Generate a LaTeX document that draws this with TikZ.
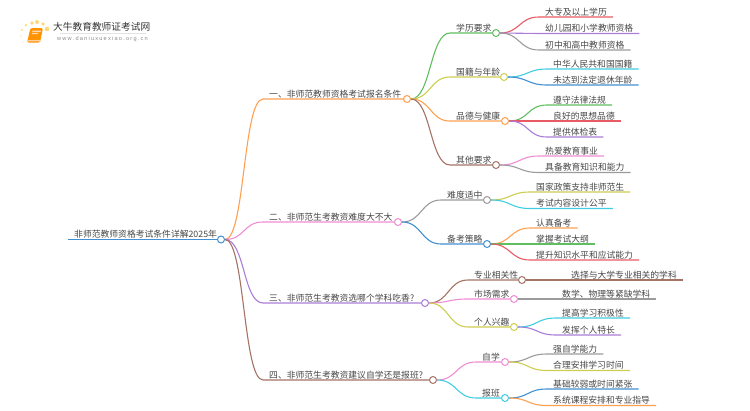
\documentclass[tikz,border=0pt]{standalone}
\usepackage{fontspec}
\setmainfont{Noto Sans CJK SC}
\newfontfamily\urlfont[LetterSpace=22]{Liberation Sans}
\usetikzlibrary{positioning}
\definecolor{pText}{RGB}{70,70,70}
\definecolor{pOrange}{RGB}{255,160,80}
\definecolor{pGreen}{RGB}{96,190,96}
\definecolor{pRed}{RGB}{232,90,100}
\definecolor{pPurple}{RGB}{170,125,215}
\definecolor{pGray}{RGB}{155,155,155}
\definecolor{pCyan}{RGB}{65,205,225}
\definecolor{pBlue}{RGB}{65,145,210}
\definecolor{pOlive}{RGB}{205,205,80}
\definecolor{pBrown}{RGB}{165,115,100}
\definecolor{pPink}{RGB}{240,140,210}
\definecolor{pGold}{RGB}{255,215,120}
\tikzset{
    lab/.style={anchor=south west, inner xsep=6pt, inner ysep=0pt, text height=7.6pt, text depth=1.6pt, font=\fontsize{8.8}{10}\selectfont, text=pText},
    hub/.style={circle, draw=#1, fill=white, inner sep=0pt, minimum size=7pt, line width=1pt},
    link/.style={line width=1.1pt},
    dot/.style={circle, fill=pGold, inner sep=0pt}
}

\begin{document}
\begin{tikzpicture}[x=1pt,y=-1pt]
\useasboundingbox (0,0) rectangle (750,410);
% logo
\node[dot, minimum size=4.6pt] (g1) at (47,29) {};
\node[dot, minimum size=3.6pt] (g2) at (43,24) {};
\node[dot, minimum size=4pt] (g3) at (37,22) {};
\node[dot, minimum size=3.6pt] (g4) at (32,23) {};
\node[dot, minimum size=3pt, opacity=.8] (g5) at (26,25) {};
\node[dot, minimum size=2.6pt, opacity=.7] (g6) at (22,30) {};
\node[dot, minimum size=2pt, opacity=.5] (g7) at (21,36) {};
\node[dot, minimum size=1.6pt, opacity=.4] (g8) at (23,42) {};
\fill[rounded corners=1.5pt, orange!85!yellow] (30.5,28) -- (43,28) -- (40,42.5) -- (27,42.5) -- cycle;
\fill[rounded corners=.5pt, orange!35!white] (28,40) -- (40.5,40) -- (40,41.3) -- (27.8,41.3) -- cycle;
\fill[orange!30!white] (32.5,30.5) -- (41,30.5) -- (40.6,32) -- (32.2,32) -- cycle;
\fill[orange!30!white] (32,33.2) -- (38,33.2) -- (37.7,34.2) -- (31.8,34.2) -- cycle;
\node[anchor=west, inner sep=0pt, font=\fontsize{9.7}{11}\selectfont, text=black!80] (brand) at (53,27) {大牛教育教师证考试网};
\node[anchor=west, inner sep=0pt, font=\urlfont\fontsize{5.6}{7}\selectfont, text=gray!90] (site) at (57,39) {www.daniuxuexiao.org.cn};
\draw[gray!22, line width=.6pt] (60,33.5) -- (146,33.5);
% root
\node[lab] (root) at (68,239.5) {非师范教师资格考试条件详解2025年};
\node[hub=pBlue] (rootH) at (221,239.5) {};
\draw[link,pBlue] (root.south west) -- (rootH.west);
% first level
\node[lab] (a) at (263,99) {一、非师范教师资格考试报名条件};
\node[hub=pOrange] (aH) at (407,99) {};
\node[lab] (b) at (263,222) {二、非师范生考教资难度大不大};
\node[hub=pPink] (bH) at (398,222) {};
\node[lab] (c) at (263,303) {三、非师范生考教资选哪个学科吃香?};
\node[hub=pPurple] (cH) at (425,303) {};
\node[lab] (d) at (263,380) {四、非师范生考教资建议自学还是报班?};
\node[hub=pBrown] (dH) at (433,380) {};
\draw[link,pOrange] (rootH.east) .. controls +(20,0) and +(-20,0) .. (a.south west) -- (aH.west);
\draw[link,pPink] (rootH.east) .. controls +(20,0) and +(-20,0) .. (b.south west) -- (bH.west);
\draw[link,pPurple] (rootH.east) .. controls +(20,0) and +(-20,0) .. (c.south west) -- (cH.west);
\draw[link,pBrown] (rootH.east) .. controls +(20,0) and +(-20,0) .. (d.south west) -- (dH.west);
% branch one
\node[lab] (a1) at (450,33) {学历要求};
\node[hub=pGreen] (a1H) at (496,33) {};
\node[lab] (a2) at (450,77) {国籍与年龄};
\node[hub=pOlive] (a2H) at (504,77) {};
\node[lab] (a3) at (450,121) {品德与健康};
\node[hub=pOrange] (a3H) at (505,121) {};
\node[lab] (a4) at (450,165) {其他要求};
\node[hub=pBrown] (a4H) at (496,165) {};
\draw[link,pGreen] (aH.east) .. controls +(20,0) and +(-20,0) .. (a1.south west) -- (a1H.west);
\draw[link,pOlive] (aH.east) .. controls +(20,0) and +(-20,0) .. (a2.south west) -- (a2H.west);
\draw[link,pOrange] (aH.east) .. controls +(20,0) and +(-20,0) .. (a3.south west) -- (a3H.west);
\draw[link,pBrown] (aH.east) .. controls +(20,0) and +(-20,0) .. (a4.south west) -- (a4H.west);
\node[lab] (a11) at (539,17) {大专及以上学历};
\node[lab] (a12) at (539,33.5) {幼儿园和小学教师资格};
\node[lab] (a13) at (539,50) {初中和高中教师资格};
\draw[link,pRed] (a1H.east) .. controls +(20,0) and +(-20,0) .. (a11.south west) -- (a11.south east);
\draw[link,pPurple] (a1H.east) .. controls +(20,0) and +(-20,0) .. (a12.south west) -- (a12.south east);
\draw[link,pGray] (a1H.east) .. controls +(20,0) and +(-20,0) .. (a13.south west) -- (a13.south east);
\node[lab] (a21) at (547,69) {中华人民共和国国籍};
\node[lab] (a22) at (547,85) {未达到法定退休年龄};
\draw[link,pCyan] (a2H.east) .. controls +(20,0) and +(-20,0) .. (a21.south west) -- (a21.south east);
\draw[link,pBlue] (a2H.east) .. controls +(20,0) and +(-20,0) .. (a22.south west) -- (a22.south east);
\node[lab] (a31) at (547,105) {遵守法律法规};
\node[lab] (a32) at (547,121) {良好的思想品德};
\node[lab] (a33) at (547,137) {提供体检表};
\draw[link,pGreen] (a3H.east) .. controls +(20,0) and +(-20,0) .. (a31.south west) -- (a31.south east);
\draw[link,pRed] (a3H.east) .. controls +(20,0) and +(-20,0) .. (a32.south west) -- (a32.south east);
\draw[link,pPurple] (a3H.east) .. controls +(20,0) and +(-20,0) .. (a33.south west) -- (a33.south east);
\node[lab] (a41) at (539,156) {热爱教育事业};
\node[lab] (a42) at (539,172.5) {具备教育知识和能力};
\draw[link,pPink] (a4H.east) .. controls +(20,0) and +(-20,0) .. (a41.south west) -- (a41.south east);
\draw[link,pGray] (a4H.east) .. controls +(20,0) and +(-20,0) .. (a42.south west) -- (a42.south east);
% branch two
\node[lab] (b1) at (441,200) {难度适中};
\node[hub=pGray] (b1H) at (487,200) {};
\node[lab] (b2) at (441,244) {备考策略};
\node[hub=pBlue] (b2H) at (487,244) {};
\draw[link,pGray] (bH.east) .. controls +(20,0) and +(-20,0) .. (b1.south west) -- (b1H.west);
\draw[link,pBlue] (bH.east) .. controls +(20,0) and +(-20,0) .. (b2.south west) -- (b2H.west);
\node[lab] (b11) at (530,192) {国家政策支持非师范生};
\node[lab] (b12) at (530,208.5) {考试内容设计公平};
\draw[link,pOlive] (b1H.east) .. controls +(20,0) and +(-20,0) .. (b11.south west) -- (b11.south east);
\draw[link,pCyan] (b1H.east) .. controls +(20,0) and +(-20,0) .. (b12.south west) -- (b12.south east);
\node[lab] (b21) at (530,228) {认真备考};
\node[lab] (b22) at (530,244) {掌握考试大纲};
\node[lab] (b23) at (530,260) {提升知识水平和应试能力};
\draw[link,pOrange] (b2H.east) .. controls +(20,0) and +(-20,0) .. (b21.south west) -- (b21.south east);
\draw[link,pGreen] (b2H.east) .. controls +(20,0) and +(-20,0) .. (b22.south west) -- (b22.south east);
\draw[link,pRed] (b2H.east) .. controls +(20,0) and +(-20,0) .. (b23.south west) -- (b23.south east);
% branch three
\node[lab] (c1) at (468,280) {专业相关性};
\node[hub=pBrown] (c1H) at (522,280) {};
\node[lab] (c2) at (468,299) {市场需求};
\node[hub=pPink] (c2H) at (514,299) {};
\node[lab] (c3) at (468,327) {个人兴趣};
\node[hub=pOlive] (c3H) at (514,327) {};
\draw[link,pBrown] (cH.east) .. controls +(20,0) and +(-20,0) .. (c1.south west) -- (c1H.west);
\draw[link,pPink] (cH.east) .. controls +(20,0) and +(-20,0) .. (c2.south west) -- (c2H.west);
\draw[link,pOlive] (cH.east) .. controls +(20,0) and +(-20,0) .. (c3.south west) -- (c3H.west);
\node[lab] (c11) at (565,280) {选择与大学专业相关的学科};
\node[lab] (c21) at (556,299) {数学、物理等紧缺学科};
\draw[link,pBrown] (c1H.east) -- (c11.south west) -- (c11.south east);
\draw[link,pGray] (c2H.east) -- (c21.south west) -- (c21.south east);
\node[lab] (c31) at (556,318) {提高学习积极性};
\node[lab] (c32) at (556,335) {发挥个人特长};
\draw[link,pCyan] (c3H.east) .. controls +(20,0) and +(-20,0) .. (c31.south west) -- (c31.south east);
\draw[link,pPurple] (c3H.east) .. controls +(20,0) and +(-20,0) .. (c32.south west) -- (c32.south east);
% branch four
\node[lab] (d1) at (476,362) {自学};
\node[hub=pPink] (d1H) at (505,362) {};
\node[lab] (d2) at (476,398) {报班};
\node[hub=pCyan] (d2H) at (505,398) {};
\draw[link,pPink] (dH.east) .. controls +(20,0) and +(-20,0) .. (d1.south west) -- (d1H.west);
\draw[link,pCyan] (dH.east) .. controls +(20,0) and +(-20,0) .. (d2.south west) -- (d2H.west);
\node[lab] (d11) at (547,354) {强自学能力};
\node[lab] (d12) at (547,370.5) {合理安排学习时间};
\draw[link,pGray] (d1H.east) .. controls +(20,0) and +(-20,0) .. (d11.south west) -- (d11.south east);
\draw[link,pOlive] (d1H.east) .. controls +(20,0) and +(-20,0) .. (d12.south west) -- (d12.south east);
\node[lab] (d21) at (547,389) {基础较弱或时间紧张};
\node[lab] (d22) at (547,405.5) {系统课程安排和专业指导};
\draw[link,pBlue] (d2H.east) .. controls +(20,0) and +(-20,0) .. (d21.south west) -- (d21.south east);
\draw[link,pOrange] (d2H.east) .. controls +(20,0) and +(-20,0) .. (d22.south west) -- (d22.south east);
\end{tikzpicture}
\end{document}
